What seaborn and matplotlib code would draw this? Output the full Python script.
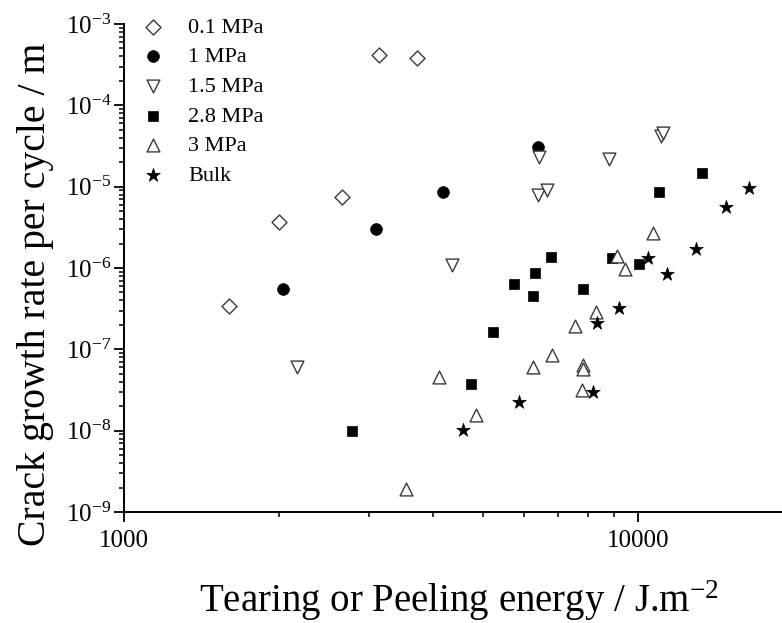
import matplotlib
matplotlib.use("Agg")
import matplotlib.pyplot as plt
import matplotlib.ticker as mticker
import numpy as np
import pandas as pd
import seaborn as sns

# Tearing / peeling energy (J.m^-2) and crack growth rate per cycle (m)
x_01 = [1601, 2003, 2655, 3133, 3715]
y_01 = [3.40e-7, 3.67e-6, 7.45e-6, 4.16e-4, 3.82e-4]

x_1 = [2037, 3091, 4180, 6380]
y_1 = [5.50e-7, 3.01e-6, 8.59e-6, 3.07e-5]

x_15 = [2174, 4345, 6380, 6654, 6410, 8789, 11090, 11200]
y_15 = [6.04e-8, 1.09e-6, 7.89e-6, 9.08e-6, 2.31e-5, 2.18e-5, 4.19e-5, 4.56e-5]

x_28 = [2777, 4732, 5226, 5742, 6253, 6310, 6776, 7818, 8891, 10040, 10990, 13320]
y_28 = [1.0e-8, 3.73e-8, 1.63e-7, 6.34e-7, 4.51e-7, 8.65e-7, 1.36e-6, 5.50e-7,
        1.32e-6, 1.12e-6, 8.59e-6, 1.47e-5]

x_3 = [3539, 4102, 4842, 6253, 6808, 7536, 7818, 7818, 7782, 8283, 9092, 9441, 10690]
y_3 = [1.91e-9, 4.55e-8, 1.55e-8, 6.04e-8, 8.49e-8, 1.93e-7, 6.40e-8, 5.70e-8,
       3.15e-8, 2.87e-7, 1.40e-6, 9.69e-7, 2.69e-6]

x_bulk = [4566, 5867, 8166, 8320, 9184, 10450, 11370, 12970, 14830, 16440]
y_bulk = [1.01e-8, 2.25e-8, 2.98e-8, 2.10e-7, 3.21e-7, 1.32e-6, 8.41e-7, 1.71e-6,
          5.61e-6, 9.62e-6]

series_labels = ["0.1 MPa", "1 MPa", "1.5 MPa", "2.8 MPa", "3 MPa", "Bulk"]
x_ticks = [1000, 10000]
x_tick_labels = ["1000", "10000"]

sns.set_theme(style="ticks")
plt.rcParams["font.family"] = ["Liberation Serif", "DejaVu Serif"]
plt.rcParams["mathtext.fontset"] = "custom"
plt.rcParams["mathtext.rm"] = "Liberation Serif"
plt.rcParams["mathtext.it"] = "Liberation Serif:italic"
plt.rcParams["mathtext.bf"] = "Liberation Serif:bold"

frames = []
for lab, xs, ys in zip(series_labels,
                       [x_01, x_1, x_15, x_28, x_3, x_bulk],
                       [y_01, y_1, y_15, y_28, y_3, y_bulk]):
    frames.append(pd.DataFrame({"energy": xs, "rate": ys, "series": lab}))
df = pd.concat(frames, ignore_index=True)

open_edge = "#3a3a3a"
styles = {
    "0.1 MPa": dict(marker="D", s=58, color="white", edgecolor=open_edge, linewidth=1.0),
    "1 MPa": dict(marker="o", s=72, color="black", edgecolor="black", linewidth=0.5),
    "1.5 MPa": dict(marker="v", s=85, color="white", edgecolor=open_edge, linewidth=1.0),
    "2.8 MPa": dict(marker="s", s=62, color="black", edgecolor="black", linewidth=0.5),
    "3 MPa": dict(marker="^", s=85, color="white", edgecolor=open_edge, linewidth=1.0),
    "Bulk": dict(marker="*", s=105, color="black", edgecolor="black", linewidth=0.5),
}

W, H = 782, 623
fig = plt.figure(figsize=(W / 100, H / 100), dpi=100)
ax = fig.add_axes([124 / W, 1 - 512 / H, 1 - 124 / W, (512 - 24) / H])

for lab in series_labels:
    sub = df[df["series"] == lab]
    sns.scatterplot(data=sub, x="energy", y="rate", ax=ax, label=lab,
                    legend=False, zorder=3, **styles[lab])

ax.set_xscale("log")
ax.set_yscale("log")
ax.set_xlim(1000, 1000 * 10 ** ((W - 124) / 514))
ax.set_ylim(1e-9, 1e-3)

ax.xaxis.set_major_locator(mticker.FixedLocator(x_ticks))
ax.xaxis.set_major_formatter(mticker.FixedFormatter(x_tick_labels))
ax.xaxis.set_minor_locator(mticker.LogLocator(base=10, subs=np.arange(2, 10)))
ax.xaxis.set_minor_formatter(mticker.NullFormatter())
ax.yaxis.set_major_locator(mticker.LogLocator(base=10, numticks=20))
ax.yaxis.set_minor_locator(mticker.LogLocator(base=10, subs=np.arange(2, 10), numticks=20))
ax.yaxis.set_minor_formatter(mticker.NullFormatter())

for side in ["top", "right"]:
    ax.spines[side].set_visible(False)
for side in ["left", "bottom"]:
    ax.spines[side].set_linewidth(1.4)
    ax.spines[side].set_color("black")

ax.tick_params(which="major", direction="out", length=7, width=1.3,
               labelsize=18, colors="black", pad=2)
ax.tick_params(which="minor", direction="out", length=3.8, width=1.1, colors="black")
ax.tick_params(axis="x", which="major", pad=6)

ax.set_xlabel("Tearing or Peeling energy / J.m$^{-2}$", fontsize=28, color="black")
ax.set_ylabel("Crack growth rate per cycle / m", fontsize=28.6, color="black",
              va="bottom")
ax.xaxis.set_label_coords(0.509, -0.136)
ax.yaxis.set_label_coords(-0.106, 0.447)

ax.set_facecolor("white")
fig.patch.set_facecolor("white")
ax.grid(False)

leg = ax.legend(loc="upper left", bbox_to_anchor=(135 / W, 1 - 17 / H),
                bbox_transform=fig.transFigure, frameon=False, fontsize=16,
                borderpad=0, borderaxespad=0, handlelength=1.6,
                handletextpad=0.78, labelspacing=0.41, scatterpoints=1)
for t in leg.get_texts():
    t.set_color("black")

fig.savefig("out.png", dpi=100, facecolor="white")
